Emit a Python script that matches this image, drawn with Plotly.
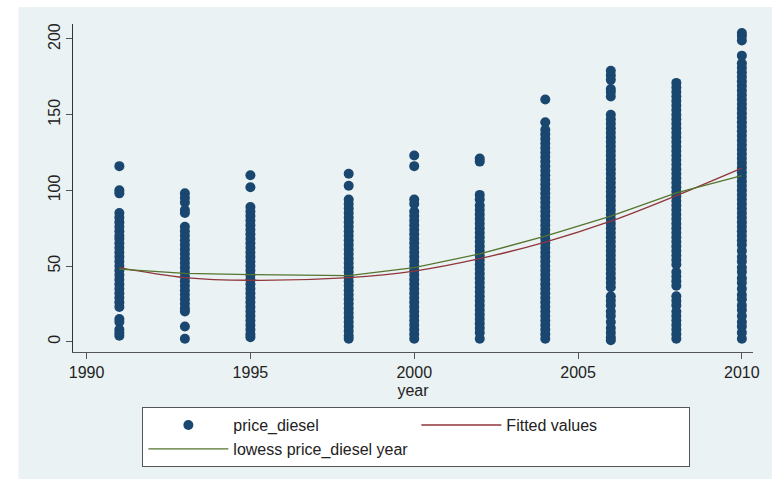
import plotly.graph_objects as go

# ---- data ----
price_1991 = [116, 100, 98, 85, 82, 79, 76, 73, 70, 68, 65, 62, 59, 56, 53, 50, 47, 44, 41, 38, 35, 32, 29, 26, 23, 15, 13, 8, 6, 4]
price_1993 = [98, 95, 92, 87, 85, 76, 73, 70, 67, 64, 61, 58, 55, 52, 49, 46, 43, 40, 37, 34, 31, 28, 25, 22, 20, 10, 2]
price_1995 = [110, 102, 89, 86, 83, 80, 77, 74, 71, 68, 65, 62, 59, 56, 53, 50, 47, 44, 41, 38, 35, 32, 29, 26, 23, 20, 17, 14, 11, 8, 5, 3]
price_1998 = [111, 103, 94, 91, 88, 85, 82, 79, 76, 73, 70, 67, 64, 61, 58, 55, 52, 49, 46, 43, 40, 37, 34, 31, 28, 25, 22, 19, 16, 13, 10, 7, 4, 2]
price_2000 = [123, 116, 94, 91, 86, 83, 80, 77, 74, 71, 68, 65, 62, 59, 56, 53, 50, 47, 44, 41, 38, 35, 32, 29, 26, 23, 20, 17, 14, 11, 8, 5, 2]
price_2002 = [121, 119, 97, 94, 90, 87, 84, 81, 78, 75, 72, 69, 66, 63, 60, 57, 54, 51, 48, 45, 42, 39, 36, 33, 30, 27, 24, 21, 18, 15, 12, 9, 6, 2]
price_2004 = [160, 145, 140, 137, 134, 131, 128, 125, 122, 119, 116, 113, 110, 107, 104, 101, 98, 95, 92, 89, 86, 83, 80, 77, 74,
              71, 68, 65, 62, 59, 56, 53, 50, 47, 44, 41, 38, 35, 32, 29, 26, 23, 20, 17, 14, 11, 8, 5, 2]
price_2006 = [179, 176, 173, 167, 165, 162, 150, 147, 144, 141, 138, 135, 132, 129, 126, 123, 120, 117, 114, 111, 108, 105, 102,
              99, 96, 93, 90, 87, 84, 81, 78, 75, 72, 69, 66, 63, 60, 57, 54, 51, 48, 45, 42, 39, 36, 30, 27, 24, 20, 17, 13, 9, 6, 3, 1]
price_2008 = [171, 168, 165, 162, 159, 156, 153, 150, 147, 144, 141, 138, 135, 132, 129, 126, 123, 120, 117, 114, 111, 108, 105,
              102, 99, 96, 93, 90, 87, 84, 81, 78, 75, 72, 69, 66, 63, 60, 57, 54, 51, 46, 43, 40, 37, 30, 27, 24, 20, 17, 14, 11, 8, 5, 2]
price_2010 = [204, 202, 199, 189, 184, 181, 178, 175, 172, 169, 166, 163, 160, 157, 154, 151, 148, 145, 142, 139, 136, 133, 130,
              127, 124, 121, 118, 115, 112, 109, 106, 103, 100, 97, 94, 91, 88, 85, 82, 79, 76, 73, 70, 67, 64, 60, 56, 53, 49,
              46, 42, 39, 35, 31, 28, 24, 21, 17, 13, 10, 6, 2]

survey_years = [1991, 1993, 1995, 1998, 2000, 2002, 2004, 2006, 2008, 2010]
price_by_year = [price_1991, price_1993, price_1995, price_1998, price_2000,
                 price_2002, price_2004, price_2006, price_2008, price_2010]

fitted_values = [49.0, 42.4, 40.6, 42.4, 46.7, 54.9, 65.8, 79.6, 96.5, 114.7]
lowess_values = [48.0, 45.2, 44.3, 43.7, 48.9, 58.0, 69.7, 82.9, 98.3, 109.7]

x_ticks = [1990, 1995, 2000, 2005, 2010]
y_ticks = [0, 50, 100, 150, 200]

# ---- build scatter arrays ----
scatter_x, scatter_y = [], []
for yr, vals in zip(survey_years, price_by_year):
    scatter_x += [yr] * len(vals)
    scatter_y += vals

NAVY = "#1a476f"
MAROON = "#90353b"
GREEN = "#55752f"
BG = "#eaf2f3"
FONT = "Liberation Sans, Arial, sans-serif"

fig = go.Figure()
fig.add_trace(go.Scatter(
    x=scatter_x, y=scatter_y, mode="markers", name="price_diesel",
    marker=dict(color=NAVY, size=10, line=dict(width=0)),
))
fig.add_trace(go.Scatter(
    x=survey_years, y=fitted_values, mode="lines", name="Fitted values",
    line=dict(color=MAROON, width=1.3, shape="spline"),
))
fig.add_trace(go.Scatter(
    x=survey_years, y=lowess_values, mode="lines", name="lowess price_diesel year",
    line=dict(color=GREEN, width=1.3),
))

fig.update_layout(
    width=772, height=479,
    margin=dict(l=73, r=14, t=24, b=126),
    paper_bgcolor="white",
    plot_bgcolor=BG,
    font=dict(family=FONT, size=16, color="#222"),
    showlegend=True,
    legend=dict(
        orientation="h",
        x=0.102, xanchor="left",
        y=-0.168, yanchor="top",
        bgcolor="white",
        bordercolor="#555",
        borderwidth=1,
        itemwidth=80,
        entrywidth=178,
        entrywidthmode="pixels",
        font=dict(family=FONT, size=16, color="#222"),
        traceorder="normal",
    ),
    shapes=[dict(
        type="rect", xref="paper", yref="paper",
        x0=-0.0803, x1=1.03, y0=-0.40, y1=1.0517,
        fillcolor=BG, line=dict(width=0), layer="below",
    )],
)

fig.update_xaxes(
    range=[1989.585, 2010.34],
    tickmode="array", tickvals=x_ticks, ticktext=[str(t) for t in x_ticks],
    showgrid=False, zeroline=False,
    showline=True, linecolor="#555", linewidth=1,
    ticks="outside", ticklen=6, tickcolor="#555",
    tickfont=dict(family=FONT, size=16, color="#222"),
    title=dict(text="year", font=dict(family=FONT, size=16, color="#222"), standoff=4),
)
fig.update_yaxes(
    range=[-6.8, 209.9],
    tickmode="array", tickvals=y_ticks, ticktext=[str(t) for t in y_ticks],
    showgrid=False, zeroline=False,
    showline=True, linecolor="#333", linewidth=1,
    ticks="outside", ticklen=6, tickcolor="#555",
    tickangle=-90,
    tickfont=dict(family=FONT, size=16, color="#222"),
)

fig.write_html("out.html")
